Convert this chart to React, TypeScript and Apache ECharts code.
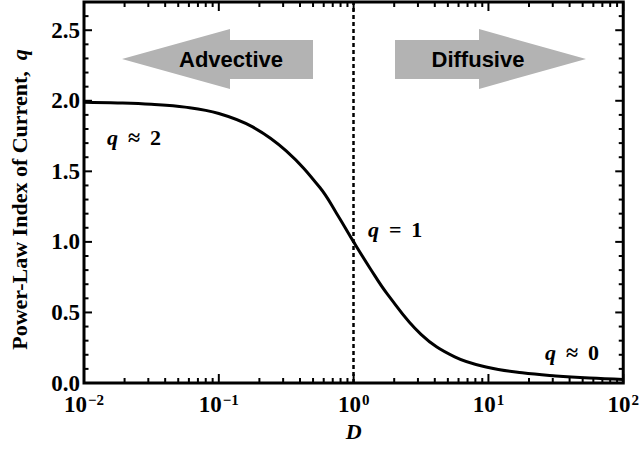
import React, { useEffect, useRef } from "react";
import * as echarts from "echarts";

// Power-law index q of the current versus the dimensionless number D
const dValues = [0.01, 0.0178, 0.0316, 0.0562, 0.1, 0.178, 0.316, 0.562, 0.75, 1.0, 1.33, 1.78, 3.16, 5.62, 10, 17.8, 31.6, 56.2, 100];
const qValues = [1.99, 1.985, 1.975, 1.955, 1.91, 1.815, 1.645, 1.385, 1.2, 1.0, 0.81, 0.63, 0.345, 0.185, 0.11, 0.072, 0.05, 0.035, 0.025];

// axis ranges and tick values
const X_MIN = 0.01;
const X_MAX = 100;
const Y_MIN = 0;
const Y_MAX = 2.7;
const Y_MAJOR = 0.5;
const decades = [0.01, 0.1, 1, 10, 100];
const minorMultipliers = [2, 3, 4, 5, 6, 7, 8, 9];
const yMajorTicks = [0, 0.5, 1, 1.5, 2, 2.5];
const yMinorTicks = [0.1, 0.2, 0.3, 0.4, 0.6, 0.7, 0.8, 0.9, 1.1, 1.2, 1.3, 1.4, 1.6, 1.7, 1.8, 1.9, 2.1, 2.2, 2.3, 2.4, 2.6];

// the crossover between the two regimes
const CROSSOVER_D = 1;

const regimeLabels = ["Advective", "Diffusive"];
const stateLabels = [
  { q: "q", rest: " \u2009\u2248 \u20092" },
  { q: "q", rest: " \u2009= \u20091" },
  { q: "q", rest: " \u2009\u2248 \u20090" },
];

// plot frame in pixels
const GRID = { left: 81, right: 15, top: 2, bottom: 71 };
const W = 642;
const H = 454;

const SERIF = "'Liberation Serif', 'Times New Roman', serif";
const SANS = "'Liberation Sans', Arial, sans-serif";

export default function App() {
  const ref = useRef<HTMLDivElement>(null);

  useEffect(() => {
    if (!ref.current) return;
    const chart = echarts.init(ref.current, null, { renderer: "svg" });

    const curve = dValues.map((d, i) => [d, qValues[i]]);
    const tickFont = { fontFamily: SERIF, fontWeight: "bold" as const, color: "#000" };

    const logLabel = (v: number) => {
      const e = Math.round(Math.log10(v));
      const s = e < 0 ? "\u2212" + -e : String(e);
      return "{b|10}{s|" + s + "}";
    };

    const annotations: any[] = [
      {
        type: "polygon",
        shape: { points: [[122, 59], [230, 29], [230, 40], [313, 40], [313, 79], [230, 79], [230, 89]] },
        style: { fill: "#b3b3b3" },
        z: 1,
      },
      {
        type: "polygon",
        shape: { points: [[395, 40], [479, 40], [479, 29], [586, 59], [479, 89], [479, 79], [395, 79]] },
        style: { fill: "#b3b3b3" },
        z: 1,
      },
      {
        type: "text",
        x: 231,
        y: 59,
        z: 2,
        style: { text: regimeLabels[0], fontFamily: SANS, fontWeight: "bold", fontSize: 22, fill: "#000", align: "center", verticalAlign: "middle" },
      },
      {
        type: "text",
        x: 478,
        y: 59,
        z: 2,
        style: { text: regimeLabels[1], fontFamily: SANS, fontWeight: "bold", fontSize: 22, fill: "#000", align: "center", verticalAlign: "middle" },
      },
      ...stateLabels.map((s, i) => {
        const pos = [[107, 137], [368, 229], [545, 352]][i];
        return {
          type: "text",
          x: pos[0],
          y: pos[1],
          z: 6,
          style: {
            text: "{i|" + s.q + "}{n|" + s.rest + "}",
            align: "left",
            verticalAlign: "middle",
            rich: {
              i: { fontFamily: SERIF, fontWeight: "bold", fontStyle: "italic", fontSize: 22, fill: "#000" },
              n: { fontFamily: SERIF, fontWeight: "bold", fontSize: 22, fill: "#000" },
            },
          },
        };
      }),
    ];

    const option: any = {
      animation: false,
      backgroundColor: "#fff",
      grid: {
        ...GRID,
        show: true,
        borderColor: "#000",
        borderWidth: 3,
        backgroundColor: "transparent",
      },
      xAxis: {
        type: "log",
        logBase: 10,
        min: X_MIN,
        max: X_MAX,
        position: "bottom",
        axisLine: { show: false },
        axisTick: { show: false },
        splitLine: { show: false },
        axisLabel: {
          margin: 9,
          formatter: logLabel,
          rich: {
            b: { ...tickFont, fontSize: 23, lineHeight: 24, verticalAlign: "bottom" },
            s: { ...tickFont, fontSize: 15, lineHeight: 24, verticalAlign: "top", padding: [0, 0, 0, 1] },
          },
        },
        name: "D",
        nameLocation: "middle",
        nameGap: 36,
        nameTextStyle: { fontFamily: SERIF, fontWeight: "bold", fontStyle: "italic", fontSize: 22, color: "#000" },
      },
      yAxis: {
        type: "value",
        min: Y_MIN,
        max: Y_MAX,
        interval: Y_MAJOR,
        position: "left",
        axisLine: { show: false },
        axisTick: { show: false },
        splitLine: { show: false },
        axisLabel: {
          margin: 4,
          showMaxLabel: false,
          formatter: (v: number) => (Math.abs(v / Y_MAJOR - Math.round(v / Y_MAJOR)) < 1e-6 ? v.toFixed(1) : ""),
          ...tickFont,
          fontSize: 23,
        },
        name: "{a|Power-Law Index of Current,}{q|  q}",
        nameLocation: "middle",
        nameRotate: 90,
        nameGap: 54,
        nameTextStyle: {
          rich: {
            a: { fontFamily: SERIF, fontWeight: "bold", fontSize: 22, color: "#000" },
            q: { fontFamily: SERIF, fontWeight: "bold", fontStyle: "italic", fontSize: 22, color: "#000", padding: [0, 14, 0, 0] },
          },
        },
      },
      series: [
        {
          type: "line",
          data: curve,
          smooth: 0.4,
          clip: false,
          showSymbol: false,
          symbol: "none",
          lineStyle: { color: "#000", width: 3 },
          z: 5,
          markLine: {
            silent: true,
            symbol: "none",
            label: { show: false },
            emphasis: { disabled: true },
            lineStyle: { color: "#000", width: 2.5, type: [4, 3] },
            data: [[{ coord: [CROSSOVER_D, Y_MIN] }, { coord: [CROSSOVER_D, Y_MAX] }]],
          },
        },
      ],
      graphic: annotations,
    };

    chart.setOption(option);

    // frame ticks, placed through the grid's own scales
    const toPx = (v: number[]) => chart.convertToPixel({ gridIndex: 0 }, v) as number[];
    const ticks: any[] = [];
    const vTick = (d: number, len: number) => {
      const b = toPx([d, Y_MIN]);
      const t = toPx([d, Y_MAX]);
      ticks.push({ type: "rect", shape: { x: b[0] - 1, y: b[1] - len, width: 2, height: len }, style: { fill: "#000" }, z: 10 });
      ticks.push({ type: "rect", shape: { x: t[0] - 1, y: t[1], width: 2, height: len }, style: { fill: "#000" }, z: 10 });
    };
    const hTick = (y: number, len: number) => {
      const l = toPx([X_MIN, y]);
      const r = toPx([X_MAX, y]);
      ticks.push({ type: "rect", shape: { x: l[0], y: l[1] - 1, width: len, height: 2 }, style: { fill: "#000" }, z: 10 });
      ticks.push({ type: "rect", shape: { x: r[0] - len, y: r[1] - 1, width: len, height: 2 }, style: { fill: "#000" }, z: 10 });
    };
    decades.forEach((d) => vTick(d, 9));
    decades.slice(0, -1).forEach((dec) => minorMultipliers.forEach((m) => vTick(dec * m, 5)));
    yMajorTicks.forEach((y) => hTick(y, 8));
    yMinorTicks.forEach((y) => hTick(y, 4.5));

    chart.setOption({ graphic: [...annotations, ...ticks] });

    return () => chart.dispose();
  }, []);

  return <div ref={ref} style={{ position: "fixed", left: 0, top: 0, width: W, height: H }} />;
}
